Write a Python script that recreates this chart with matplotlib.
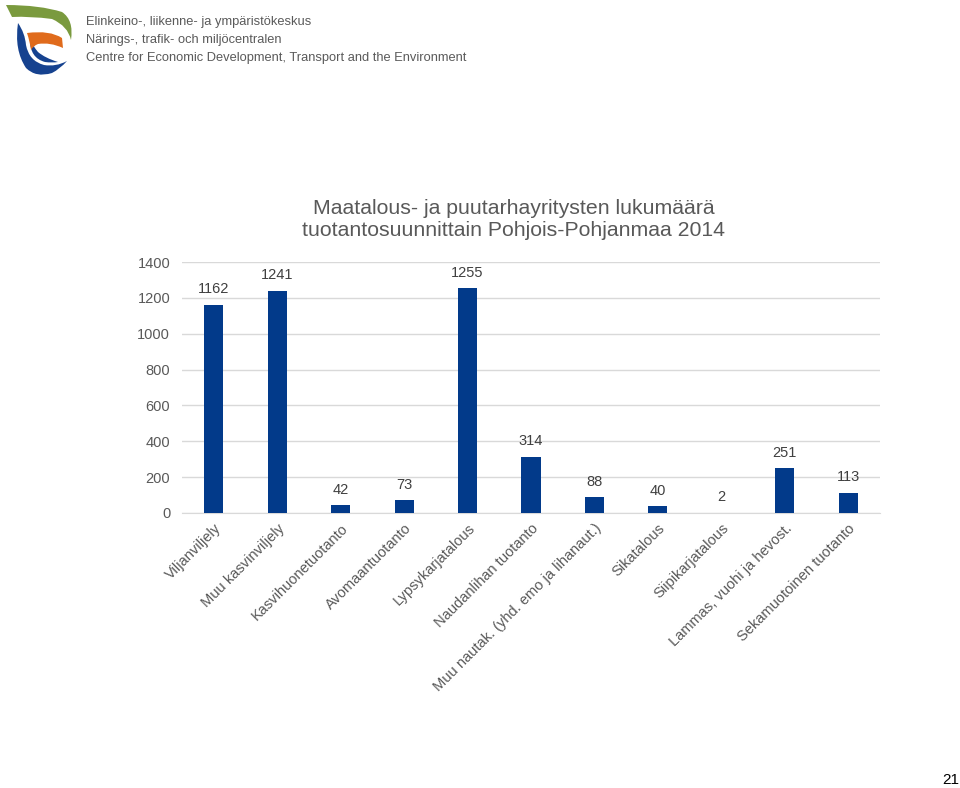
import matplotlib.pyplot as plt
import numpy as np
from matplotlib.path import Path
from matplotlib.patches import PathPatch

plt.rcParams['font.family'] = ['Liberation Sans', 'DejaVu Sans']

# Data
categories = ['Viljanviljely', 'Muu kasvinviljely', 'Kasvihuonetuotanto', 'Avomaantuotanto',
              'Lypsykarjatalous', 'Naudanlihan tuotanto', 'Muu nautak. (yhd. emo ja lihanaut.)',
              'Sikatalous', 'Siipikarjatalous', 'Lammas, vuohi ja hevost.', 'Sekamuotoinen tuotanto']
values = [1162, 1241, 42, 73, 1255, 314, 88, 40, 2, 251, 113]
y_ticks = [0, 200, 400, 600, 800, 1000, 1200, 1400]
title = 'Maatalous- ja puutarhayritysten lukumäärä\ntuotantosuunnittain Pohjois-Pohjanmaa 2014'
header = ['Elinkeino-, liikenne- ja ympäristökeskus',
          'Närings-, trafik- och miljöcentralen',
          'Centre for Economic Development, Transport and the Environment']

W, H = 960, 788
fig = plt.figure(figsize=(W / 100, H / 100), dpi=100)

# main chart
ax = fig.add_axes([182 / W, 1 - 513 / H, 698 / W, 251 / H])
x = np.arange(len(categories))
ax.bar(x, values, width=0.3, color='#023a8a', zorder=3)
ax.set_xlim(-0.5, len(categories) - 0.5)
ax.set_ylim(0, 1400)
ax.set_yticks(y_ticks)
ax.yaxis.grid(True, color='#d9d9d9', linewidth=1, zorder=0)
for s in ['top', 'right', 'left']:
    ax.spines[s].set_visible(False)
ax.spines['bottom'].set_color('#d9d9d9')
ax.tick_params(axis='both', length=0, labelsize=10.5, colors='#595959')
ax.tick_params(axis='y', pad=8.5)
ax.set_xticks(x)
ax.set_xticklabels(categories, rotation=45, ha='right', va='top',
                   rotation_mode='anchor', fontsize=10.5, color='#595959')
ax.tick_params(axis='x', pad=6)

for xi, v in zip(x, values):
    ax.annotate(str(v), (xi, v), xytext=(0, 11), textcoords='offset points',
                ha='center', va='center', fontsize=10.5, color='#404040')

fig.text(514 / W, 1 - 220 / H, title, ha='center', va='center',
         fontsize=15.3, color='#595959', linespacing=1.2)

# header text
for i, line in enumerate(header):
    fig.text(86 / W, 1 - (22 + i * 18) / H, line, ha='left', va='center',
             fontsize=9.25, color='#5a5a5a')

# logo (pixel coords, y downward)
lax = fig.add_axes([0, 1 - 80 / H, 80 / W, 80 / H])
lax.set_xlim(0, 80)
lax.set_ylim(80, 0)
lax.axis('off')

def shape(pts, codes, color):
    lax.add_patch(PathPatch(Path(pts, codes), facecolor=color, edgecolor='none'))

M, C, L, Z = Path.MOVETO, Path.CURVE3, Path.LINETO, Path.CLOSEPOLY
# green swoosh
shape([(6, 5), (40, 5), (62, 12), (74, 20), (71, 40), (68, 26), (52, 19), (30, 16), (12, 17), (6, 5)],
      [M, C, C, C, C, C, C, C, L, Z], '#7a9a3e')
# blue crescent
shape([(18, 23), (14, 50), (26, 68), (36, 78), (52, 73), (60, 69), (67, 61), (56, 67), (44, 65),
       (29, 61), (26, 45), (25, 33), (18, 23)],
      [M, C, C, C, C, C, C, C, C, C, C, C, Z], '#16428f')
# inner blue
shape([(30, 40), (30, 58), (45, 62), (52, 63), (58, 62), (45, 58), (38, 52), (33, 46), (30, 40)],
      [M, C, C, C, C, C, C, C, Z], '#16428f')
# orange leaf
shape([(27, 33), (50, 30), (62, 38), (63, 48), (50, 42), (38, 44), (33, 46), (31, 50), (30, 42), (27, 33)],
      [M, C, C, L, C, C, C, C, C, Z], '#e06b1c')

fig.text(951 / W, 1 - 780 / H, '21', ha='center', va='center', fontsize=11, color='#000000')

fig.savefig('out.png', dpi=100)
